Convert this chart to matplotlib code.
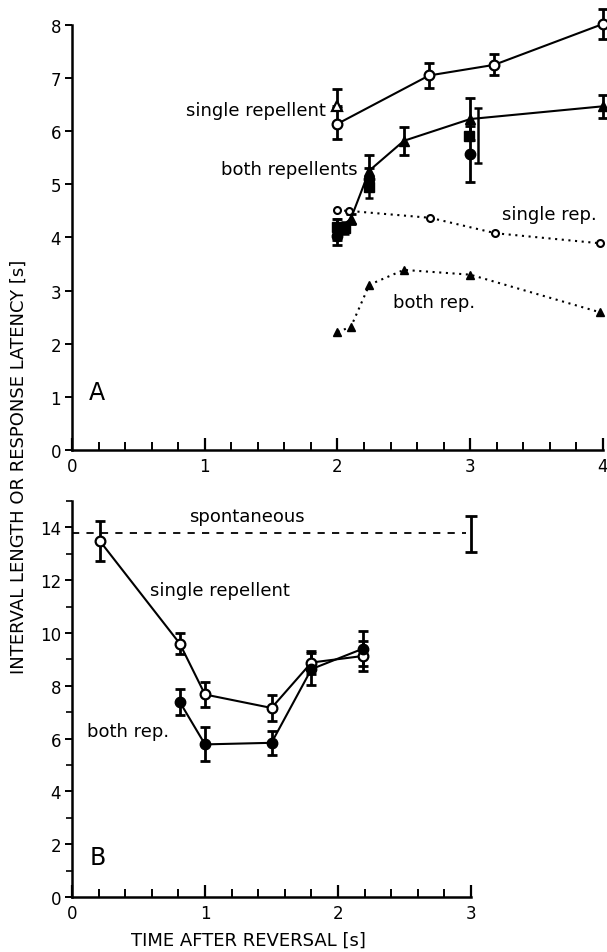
import matplotlib
matplotlib.use("Agg")
import matplotlib.pyplot as plt
from matplotlib.ticker import MultipleLocator

plt.rcParams['font.family'] = ['DejaVu Sans']

# ---------------- Panel A data ----------------
a_single_x = [2.0, 2.69, 3.18, 4.0]
a_single_y = [6.14, 7.05, 7.25, 8.02]
a_single_err = [0.29, 0.23, 0.2, 0.29]

a_single_tri_x = [2.0]
a_single_tri_y = [6.47]
a_single_tri_err_up = [0.32]

a_both_tri_x = [2.0, 2.1, 2.24, 2.5, 3.0, 4.0]
a_both_tri_y = [4.15, 4.35, 5.26, 5.82, 6.23, 6.47]
a_both_tri_err = [0.2, 0.1, 0.3, 0.26, 0.39, 0.22]

a_both_circ_x = [2.0, 2.24, 3.0]
a_both_circ_y = [4.03, 5.10, 5.57]
a_both_circ_err = [0.17, 0.2, 0.52]

a_both_sq_x = [2.0, 2.06, 2.24, 2.99]
a_both_sq_y = [4.2, 4.18, 4.95, 5.92]
a_both_sq_err = [0.15, 0.12, 0.2, 0.51]
a_both_sq_err_x = [2.0, 2.06, 2.24, 3.06]

a_singlerep_x = [2.0, 2.09, 2.7, 3.19, 3.98]
a_singlerep_y = [4.51, 4.5, 4.37, 4.08, 3.89]

a_bothrep_x = [2.0, 2.1, 2.24, 2.5, 3.0, 3.98]
a_bothrep_y = [2.23, 2.31, 3.11, 3.39, 3.30, 2.59]

# ---------------- Panel B data ----------------
b_single_x = [0.21, 0.81, 1.0, 1.5, 1.8, 2.19]
b_single_y = [13.48, 9.60, 7.67, 7.16, 8.88, 9.13]
b_single_err = [0.76, 0.41, 0.47, 0.48, 0.44, 0.58]

b_both_x = [0.81, 1.0, 1.5, 1.8, 2.19]
b_both_y = [7.39, 5.78, 5.84, 8.63, 9.41]
b_both_err = [0.49, 0.64, 0.46, 0.6, 0.65]

b_spont_y = 13.8
b_spont_bar_x = [3.0]
b_spont_bar_y = [13.76]
b_spont_bar_err = [0.68]

# ---------------- figure ----------------
fig = plt.figure(figsize=(6.07, 9.53), dpi=100)
axA = fig.add_axes([0.1186, 0.5268, 0.8748, 0.4459])
axB = fig.add_axes([0.1186, 0.0577, 0.6574, 0.4156])

eb_kw = dict(fmt='none', ecolor='black', elinewidth=2.0, capsize=3.5, capthick=2.0,
             zorder=3, clip_on=False)
open_kw = dict(marker='o', ms=7, mfc='white', mec='black', mew=1.6, ls='none', zorder=5,
               clip_on=False)
fill_circ_kw = dict(marker='o', ms=7.5, mfc='black', mec='black', ls='none', zorder=5,
                    clip_on=False)
fill_tri_kw = dict(marker='^', ms=7.5, mfc='black', mec='black', ls='none', zorder=5,
                   clip_on=False)
fill_sq_kw = dict(marker='s', ms=7, mfc='black', mec='black', ls='none', zorder=5,
                  clip_on=False)
line_kw = dict(color='black', lw=1.5, zorder=2, clip_on=False)
dot_ls = (0, (1, 2.2))

# ----- Panel A -----
ax = axA
ax.plot(a_single_x, a_single_y, **line_kw)
ax.errorbar(a_single_x, a_single_y, yerr=a_single_err, **eb_kw)
ax.plot(a_single_x, a_single_y, **open_kw)

ax.errorbar(a_single_tri_x, a_single_tri_y, yerr=[[0], a_single_tri_err_up], **eb_kw)
ax.plot(a_single_tri_x, a_single_tri_y, marker='^', ms=7, mfc='white', mec='black',
        mew=1.6, ls='none', zorder=5)

ax.plot(a_both_tri_x, a_both_tri_y, **line_kw)
ax.errorbar(a_both_tri_x, a_both_tri_y, yerr=a_both_tri_err, **eb_kw)
ax.plot(a_both_tri_x, a_both_tri_y, **fill_tri_kw)
ax.errorbar(a_both_circ_x, a_both_circ_y, yerr=a_both_circ_err, **eb_kw)
ax.plot(a_both_circ_x, a_both_circ_y, **fill_circ_kw)
ax.errorbar(a_both_sq_err_x, a_both_sq_y, yerr=a_both_sq_err,
            fmt='none', ecolor='black', elinewidth=1.8, capsize=3, capthick=1.8, zorder=3)
ax.plot(a_both_sq_x, a_both_sq_y, **fill_sq_kw)

ax.plot(a_singlerep_x, a_singlerep_y, color='black', lw=1.5, ls=dot_ls, zorder=2)
ax.plot(a_singlerep_x, a_singlerep_y, marker='o', ms=5, mfc='white', mec='black',
        mew=1.5, ls='none', zorder=5, clip_on=False)
ax.plot(a_bothrep_x, a_bothrep_y, color='black', lw=1.5, ls=dot_ls, zorder=2)
ax.plot(a_bothrep_x, a_bothrep_y, marker='^', ms=5.5, mfc='black', mec='black',
        ls='none', zorder=5, clip_on=False)

ax.set_xlim(0, 4)
ax.set_ylim(0, 8)
ax.xaxis.set_major_locator(MultipleLocator(1))
ax.xaxis.set_minor_locator(MultipleLocator(0.2))
ax.yaxis.set_major_locator(MultipleLocator(1))

txt_kw = dict(fontsize=13, color='black')
ax.text(1.91, 6.4, 'single repellent', ha='right', va='center', **txt_kw)
ax.text(2.15, 5.29, 'both repellents', ha='right', va='center', **txt_kw)
ax.text(3.24, 4.44, 'single rep.', ha='left', va='center', **txt_kw)
ax.text(2.42, 2.79, 'both rep.', ha='left', va='center', **txt_kw)
ax.text(0.13, 1.1, 'A', ha='left', va='center', fontsize=17)

# ----- Panel B -----
ax = axB
ax.plot([0, 2.96], [b_spont_y, b_spont_y], color='black', lw=1.3, ls=(0, (4, 4)), zorder=2)
ax.errorbar(b_spont_bar_x, b_spont_bar_y, yerr=b_spont_bar_err, fmt='none', ecolor='black',
            elinewidth=2.0, capsize=4, capthick=2.0, zorder=3, clip_on=False)

ax.plot(b_single_x, b_single_y, **line_kw)
ax.errorbar(b_single_x, b_single_y, yerr=b_single_err, **eb_kw)
ax.plot(b_single_x, b_single_y, **open_kw)

ax.plot(b_both_x, b_both_y, **line_kw)
ax.errorbar(b_both_x, b_both_y, yerr=b_both_err, **eb_kw)
ax.plot(b_both_x, b_both_y, **fill_circ_kw)

ax.set_xlim(0, 3)
ax.set_ylim(0, 15)
ax.xaxis.set_major_locator(MultipleLocator(1))
ax.xaxis.set_minor_locator(MultipleLocator(0.2))
ax.yaxis.set_major_locator(MultipleLocator(2))
ax.yaxis.set_minor_locator(MultipleLocator(1))

ax.text(0.88, 14.43, 'spontaneous', ha='left', va='center', **txt_kw)
ax.text(0.59, 11.62, 'single repellent', ha='left', va='center', **txt_kw)
ax.text(0.11, 6.3, 'both rep.', ha='left', va='center', **txt_kw)
ax.text(0.13, 1.5, 'B', ha='left', va='center', fontsize=17)

for ax in (axA, axB):
    for s in ('top', 'right'):
        ax.spines[s].set_visible(False)
    for s in ('left', 'bottom'):
        ax.spines[s].set_linewidth(1.8)
    ax.tick_params(axis='x', which='major', direction='in', length=9, width=1.6,
                   labelsize=12, pad=5)
    ax.tick_params(axis='x', which='minor', direction='in', length=5.5, width=1.4)
    ax.tick_params(axis='y', which='major', direction='out', length=5, width=1.4,
                   labelsize=12, pad=3)
    ax.tick_params(axis='y', which='minor', direction='out', length=4, width=1.2)

fig.text(0.031, 0.51, 'INTERVAL LENGTH OR RESPONSE LATENCY [s]', rotation=90,
         ha='center', va='center', fontsize=13)
fig.text(0.41, 0.0125, 'TIME AFTER REVERSAL [s]', ha='center', va='center', fontsize=13)

fig.savefig('out.png', dpi=100)
